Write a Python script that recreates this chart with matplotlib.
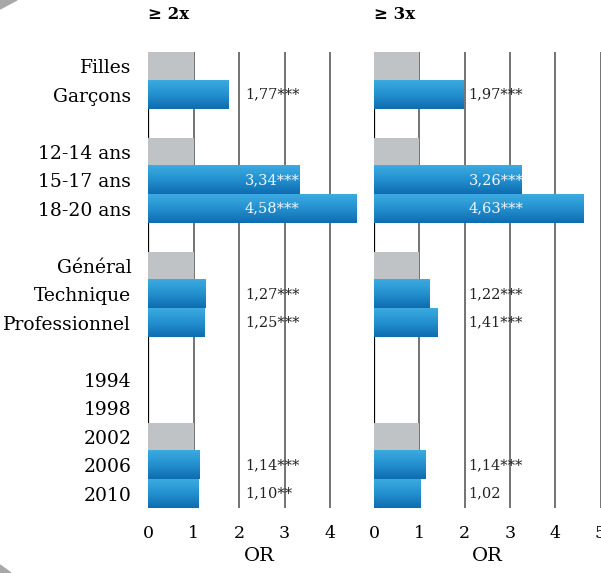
import matplotlib
matplotlib.use("Agg")
import matplotlib.pyplot as plt
import numpy as np
from matplotlib.colors import LinearSegmentedColormap
from matplotlib.patches import Polygon

# lignes du graphique (les "" sont des lignes vides entre les groupes)
rows = ["Filles", "Garçons", "",
        "12-14 ans", "15-17 ans", "18-20 ans", "",
        "Général", "Technique", "Professionnel", "",
        "1994", "1998", "2002", "2006", "2010"]

# catégorie de référence (barre grise, OR = 1)
is_ref = [True, False, False,
          True, False, False, False,
          True, False, False, False,
          False, False, True, False, False]

# odds ratios, panneau ">= 2x"
or_2x = [1, 1.77, None,
         1, 3.34, 4.58, None,
         1, 1.27, 1.25, None,
         None, None, 1, 1.14, 1.10]
lab_2x = ["", "1,77***", "",
          "", "3,34***", "4,58***", "",
          "", "1,27***", "1,25***", "",
          "", "", "", "1,14***", "1,10**"]

# odds ratios, panneau ">= 3x"
or_3x = [1, 1.97, None,
         1, 3.26, 4.63, None,
         1, 1.22, 1.41, None,
         None, None, 1, 1.14, 1.02]
lab_3x = ["", "1,97***", "",
          "", "3,26***", "4,63***", "",
          "", "1,22***", "1,41***", "",
          "", "", "", "1,14***", "1,02"]

titles = ["≥ 2x", "≥ 3x"]

plt.rcParams['font.family'] = ['DejaVu Serif']

blue = LinearSegmentedColormap.from_list("bleu", ["#3cabe0", "#2390cf", "#0e6cb1"])
grad = np.linspace(0, 1, 64).reshape(-1, 1)

fig = plt.figure(figsize=(6.01, 5.73), dpi=100)
bottom = 1 - 508 / 573
height = (508 - 52) / 573
ax1 = fig.add_axes([148 / 601, bottom, 4.9 * 45.5 / 601, height])
ax2 = fig.add_axes([374 / 601, bottom, 5.0 * 45.3 / 601, height])

def panneau(ax, vals, labs, title, xmax, ticks, xlab):
    n = len(rows)
    for i in range(n):
        v = vals[i]
        if v is None:
            continue
        if is_ref[i]:
            ax.barh(i, v, height=1.0, color="#bfc3c6", zorder=2)
        else:
            ax.imshow(grad, extent=(0, v, i + 0.5, i - 0.5), aspect='auto',
                      cmap=blue, zorder=2, interpolation='bilinear')
        if labs[i]:
            col = "#f0f7fc" if v > xlab + 0.9 else "#222222"
            ax.text(xlab, i, labs[i], ha='left', va='center', fontsize=10.5,
                    color=col, zorder=4)
    for t in ticks[1:]:
        ax.axvline(t, color="#4d4d4d", lw=1.1, zorder=1)
    ax.axvline(0, color="black", lw=1.6, zorder=1)
    ax.set_xlim(0, xmax)
    ax.set_ylim(n - 0.5, -0.5)
    ax.set_xticks(ticks)
    ax.tick_params(axis='x', length=0, pad=12, labelsize=12.5)
    for s in ax.spines.values():
        s.set_visible(False)
    ax.set_xlabel("OR", fontsize=14, labelpad=4)
    ax.text(0, 1.083, title, transform=ax.transAxes, ha='left', va='center',
            fontsize=12, fontweight='bold')
    ax.set_facecolor("none")

panneau(ax1, or_2x, lab_2x, titles[0], 4.9, [0, 1, 2, 3, 4], 2.13)
panneau(ax2, or_3x, lab_3x, titles[1], 5.0, [0, 1, 2, 3, 4, 5], 2.09)

pos = [i for i, r in enumerate(rows) if r]
ax1.set_yticks(pos)
ax1.set_yticklabels([rows[i] for i in pos], fontsize=13.5)
ax1.tick_params(axis='y', length=0, pad=12)
ax2.set_yticks([])

# coins gris de la page
fig.patches.append(Polygon([(0, 1), (17 / 601, 1), (0, 1 - 9 / 573)], closed=True,
                           transform=fig.transFigure, color="#a8a8a8"))
fig.patches.append(Polygon([(0, 0), (11 / 601, 0), (0, 8 / 573)], closed=True,
                           transform=fig.transFigure, color="#a8a8a8"))

fig.savefig("out.png", dpi=100)
